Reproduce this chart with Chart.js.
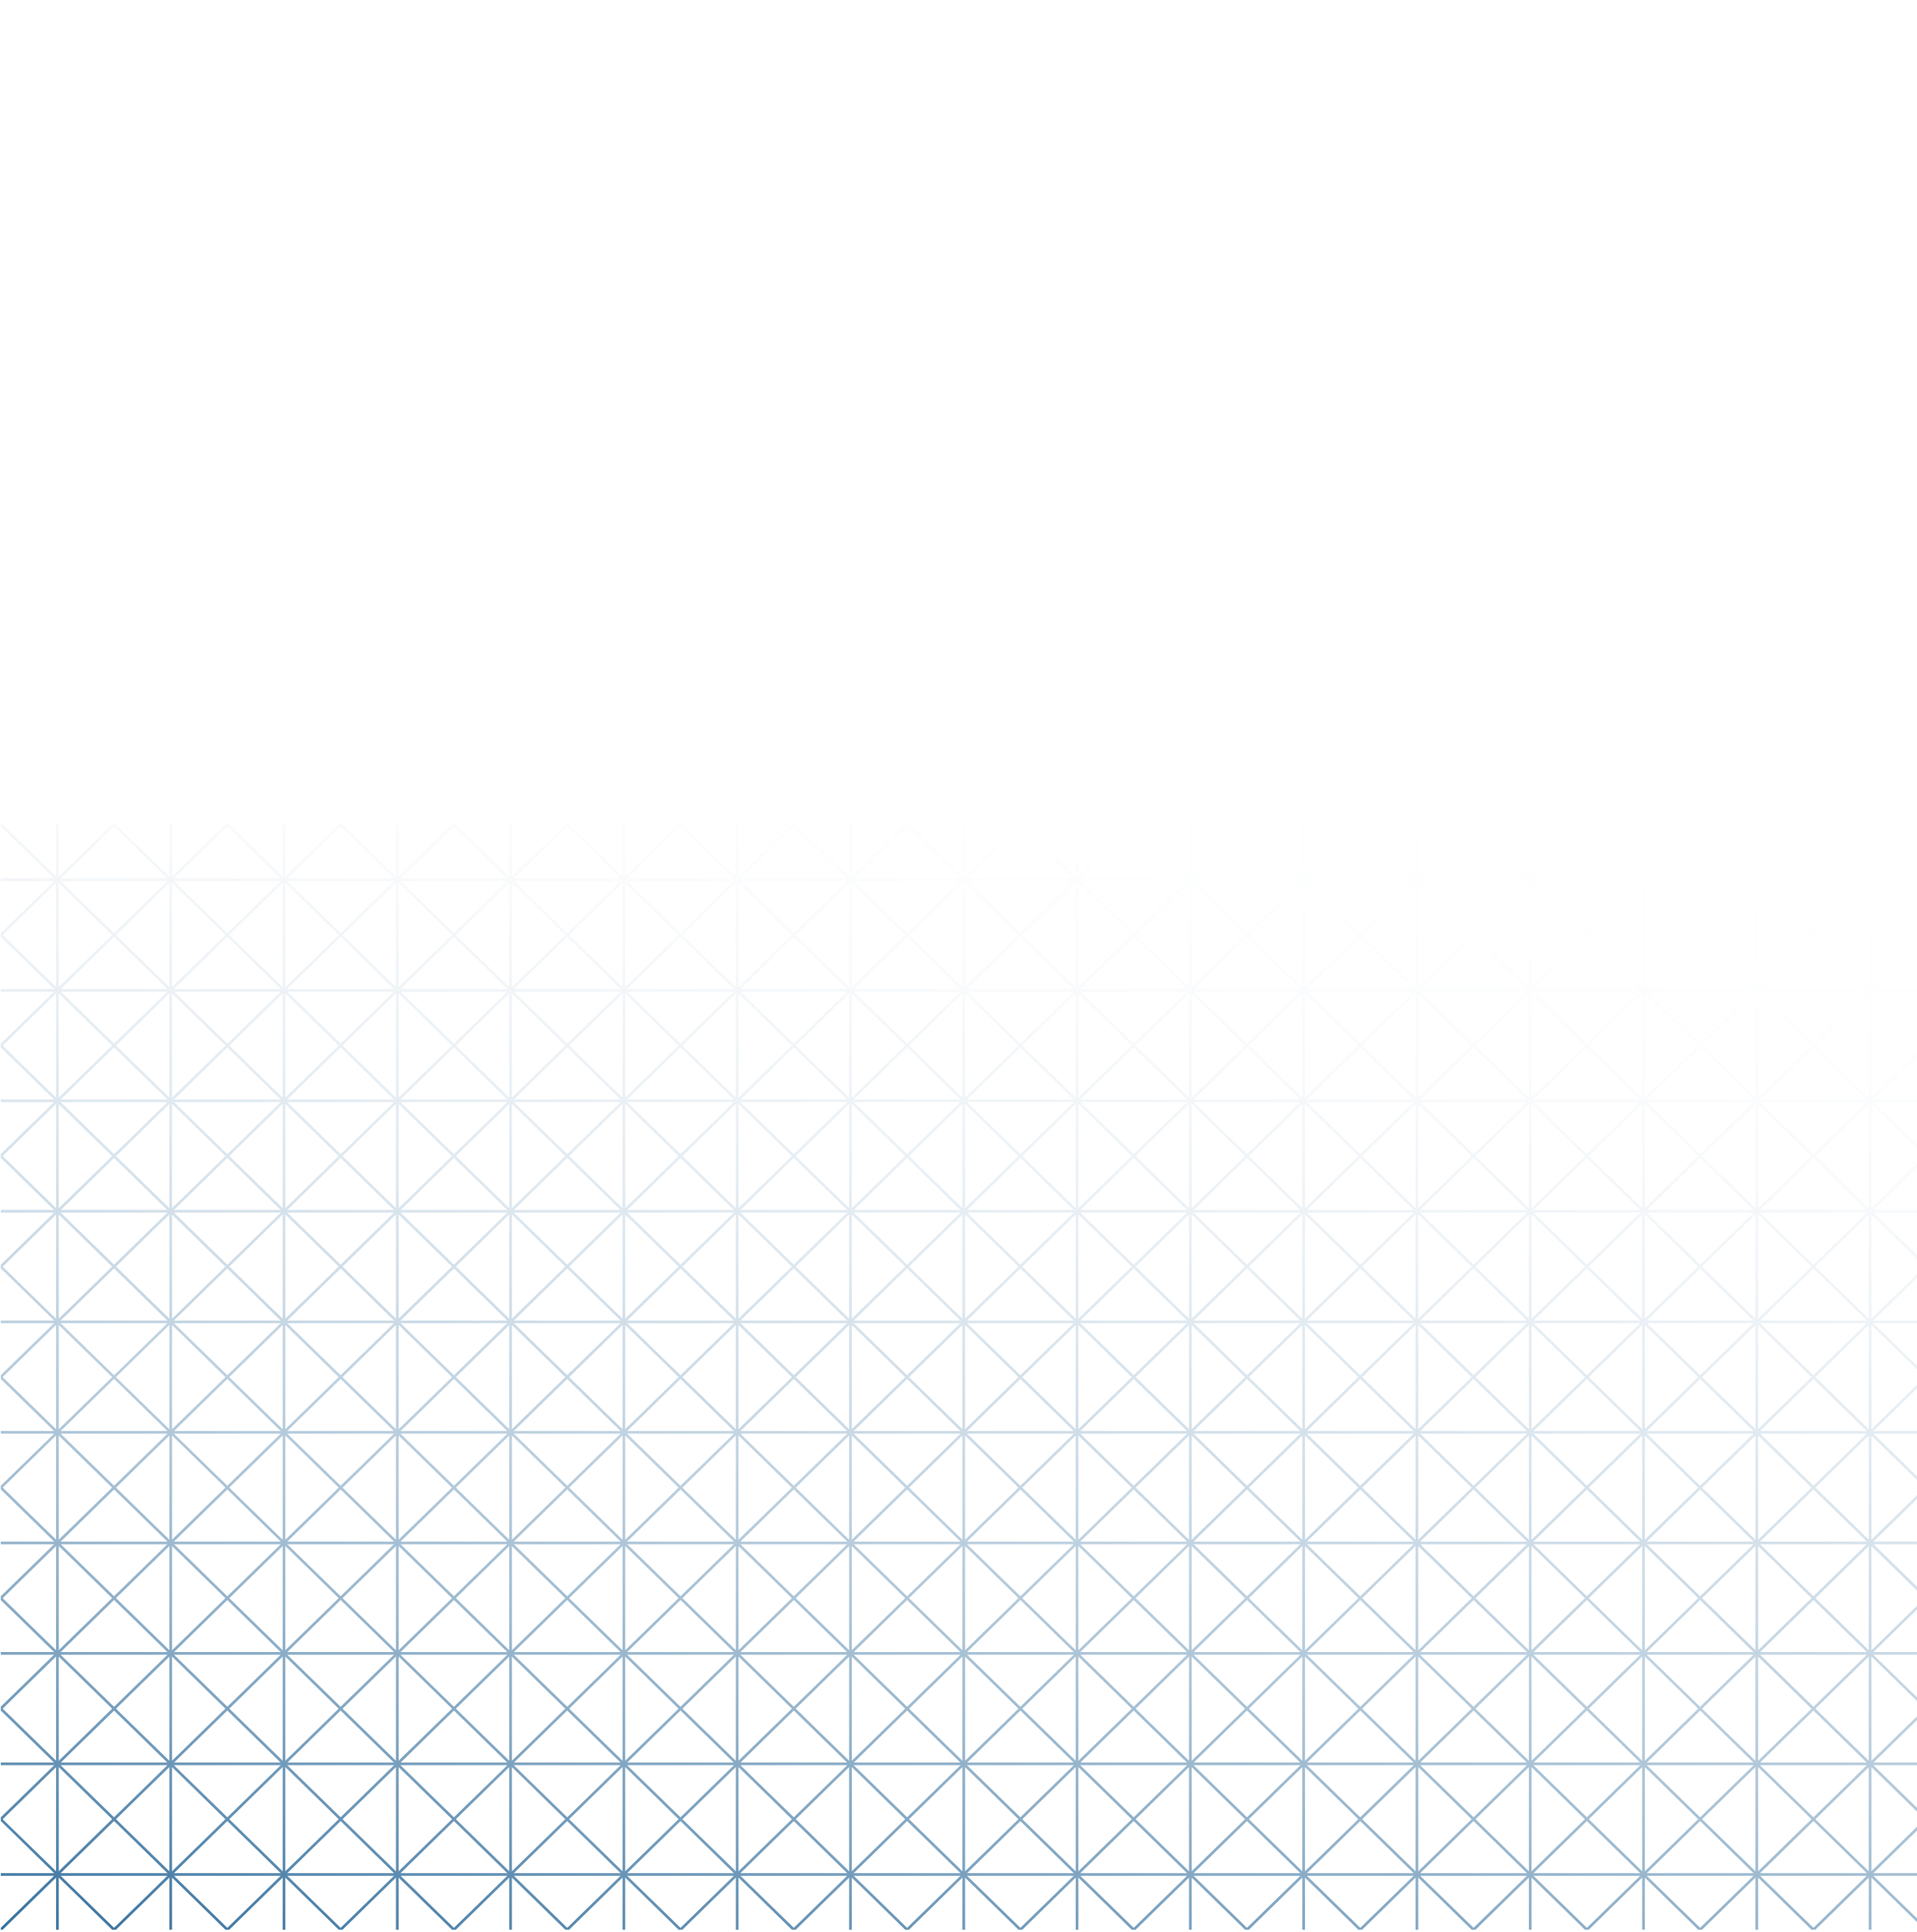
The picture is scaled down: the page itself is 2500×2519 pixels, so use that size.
<!DOCTYPE html>
<html lang="en">
<head>
  <meta charset="UTF-8" />
  <title>Grid pattern</title>
  <script src="https://cdn.jsdelivr.net/npm/chart.js"></script>
  <style>
    html, body { margin: 0; padding: 0; background: #fff; }
    #wrap { width: 2500px; height: 2519px; position: relative; }
  </style>
</head>
<body>
  <div id="wrap"><canvas id="pattern"></canvas></div>

  <script>
    // grid in cell units: x = columns, y = rows (0 at the bottom)
    const columns = [0.5, 1.5, 2.5, 3.5, 4.5, 5.5, 6.5, 7.5, 8.5, 9.5, 10.5, 11.5, 12.5, 13.5, 14.5, 15.5, 16.5];
    const rows = [0.5, 1.5, 2.5, 3.5, 4.5, 5.5, 6.5, 7.5, 8.5, 9.5];
    // diagonals x - y = c and x + y = c
    const risingOffsets = [-9, -8, -7, -6, -5, -4, -3, -2, -1, 0, 1, 2, 3, 4, 5, 6, 7, 8, 9, 10, 11, 12, 13, 14, 15, 16];
    const fallingOffsets = [1, 2, 3, 4, 5, 6, 7, 8, 9, 10, 11, 12, 13, 14, 15, 16, 17, 18, 19, 20, 21, 22, 23, 24, 25, 26];

    const xMax = 17;
    const yMax = 10;

    // fade: alpha stops along the gradient (transparent top-right -> solid bottom-left)
    const fadeStops = [0, 0.01, 0.04, 0.09, 0.16, 0.25, 0.36, 0.49, 0.64, 0.81, 1];

    function segments(list) {
      const pts = [];
      list.forEach(s => {
        pts.push(s[0], s[1], { x: s[0].x, y: null });
      });
      return pts;
    }

    const vertical = segments(columns.map(x => [{ x: x, y: 0 }, { x: x, y: yMax }]));
    const horizontal = segments(rows.map(y => [{ x: 0, y: y }, { x: xMax, y: y }]));
    const rising = segments(risingOffsets.map(c => {
      const x0 = Math.max(0, c), x1 = Math.min(xMax, yMax + c);
      return [{ x: x0, y: x0 - c }, { x: x1, y: x1 - c }];
    }));
    const falling = segments(fallingOffsets.map(c => {
      const x0 = Math.max(0, c - yMax), x1 = Math.min(xMax, c);
      return [{ x: x0, y: c - x0 }, { x: x1, y: c - x1 }];
    }));

    const lineColor = 'rgb(46, 107, 154)';

    const fadeMask = {
      id: 'fadeMask',
      afterDraw(chart) {
        const ctx = chart.ctx;
        const w = chart.width, h = chart.height;
        const g = ctx.createLinearGradient(0.152 * w, 0.297 * h, -0.003 * w, 1.013 * h);
        fadeStops.forEach((a, i) => g.addColorStop(i / (fadeStops.length - 1), `rgba(0,0,0,${a})`));
        ctx.save();
        ctx.globalCompositeOperation = 'destination-in';
        ctx.fillStyle = g;
        ctx.fillRect(0, 0, w, h);
        ctx.restore();
      }
    };

    const lineStyle = {
      borderColor: lineColor,
      borderWidth: 3.5,
      pointRadius: 0,
      showLine: true,
      spanGaps: false,
      borderCapStyle: 'butt'
    };

    new Chart(document.getElementById('pattern'), {
      type: 'scatter',
      data: {
        datasets: [
          { label: 'vertical', data: vertical, ...lineStyle },
          { label: 'horizontal', data: horizontal, ...lineStyle },
          { label: 'rising', data: rising, ...lineStyle },
          { label: 'falling', data: falling, ...lineStyle }
        ]
      },
      options: {
        responsive: true,
        maintainAspectRatio: false,
        animation: false,
        events: [],
        layout: { padding: { top: 1075, left: 1, right: 0, bottom: 3 } },
        plugins: {
          legend: { display: false },
          tooltip: { enabled: false }
        },
        scales: {
          x: { type: 'linear', min: 0, max: 16.914, display: false },
          y: { type: 'linear', min: 0, max: yMax, display: false }
        }
      },
      plugins: [fadeMask]
    });
  </script>
</body>
</html>
